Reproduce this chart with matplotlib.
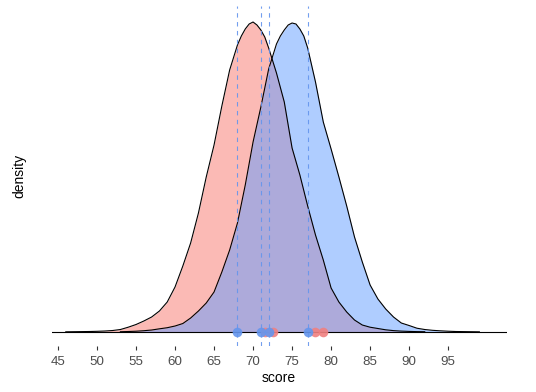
import numpy as np
import matplotlib
matplotlib.use("Agg")
import matplotlib.pyplot as plt

plt.rcParams['font.family'] = ['Liberation Sans', 'DejaVu Sans']

# density curves (heights in 1/4000 density units)
red_x = list(range(46, 68)) + [68, 68.5, 69, 69.5, 70, 70.5, 71, 71.5, 72] \
    + list(range(73, 93))
red_h = [0.2, 0.3, 0.4, 0.5, 0.7, 1.0, 1.5, 2.5, 4.8, 7.5,
         11, 15, 21, 30, 45, 66, 89, 119, 155, 187,
         226, 262,
         287, 296, 303, 308, 310, 307, 302, 295, 284,
         259, 230, 184, 157, 126, 97, 72, 44, 30, 20,
         12, 7, 4.8, 3.5, 2.2, 1.4, 0.9, 0.6, 0.4, 0.3]

blue_x = list(range(53, 73)) + [73, 73.5, 74, 74.5, 75, 75.5, 76, 76.5, 77] \
    + list(range(78, 100))
blue_h = [0.3, 0.5, 0.8, 1.3, 2, 3.2, 4.3, 6, 8.5, 14,
          21, 29, 40, 60, 82, 109, 147, 190, 225, 263,
          288, 296, 302, 307, 309, 308, 303, 296, 284,
          250, 210, 183, 155, 126, 95, 70, 47, 33, 23,
          15, 9, 6.5, 3.8, 2.5, 1.7, 1.2, 0.8, 0.5, 0.4, 0.3, 0.2]

# observed scores
red_scores = [71.5, 72.5, 78, 79]
blue_scores = [68, 71, 72, 77]

xticks = [45, 50, 55, 60, 65, 70, 75, 80, 85, 90, 95]

red_d = np.array(red_h) / 4000
blue_d = np.array(blue_h) / 4000

fig = plt.figure(figsize=(5.36, 3.92), dpi=100)
ax = fig.add_axes([0.0965, 0.1173, 0.8488, 0.8674])

ax.fill_between(red_x, 0, red_d, color='#F8766D', alpha=0.5, lw=0)
ax.plot(red_x, red_d, color='black', lw=0.8)
ax.fill_between(blue_x, 0, blue_d, color='#619CFF', alpha=0.5, lw=0)
ax.plot(blue_x, blue_d, color='black', lw=0.8)

ax.axhline(0, color='black', lw=0.8)

for s in blue_scores:
    ax.axvline(s, color='#6495ED', lw=0.8, ls=(0, (4, 4)), alpha=0.9)

ax.scatter(red_scores, [0] * len(red_scores), s=48, color='#F08080',
           alpha=0.9, zorder=5, lw=0)
ax.scatter(blue_scores, [0] * len(blue_scores), s=48, color='#6495ED',
           alpha=0.9, zorder=6, lw=0)

ax.set_xlim(44.2, 102.5)
ax.set_ylim(-14 / 4000, 326 / 4000)
ax.set_xticks(xticks)
ax.set_yticks([])
ax.tick_params(axis='x', length=3, width=0.8, color='#333333',
               labelcolor='#4D4D4D', labelsize=9.6, pad=4)
for sp in ax.spines.values():
    sp.set_visible(False)

ax.set_xlabel('score', fontsize=10, labelpad=2)
ax.set_ylabel('density', fontsize=10, labelpad=18)

fig.savefig('out.png', dpi=100)
